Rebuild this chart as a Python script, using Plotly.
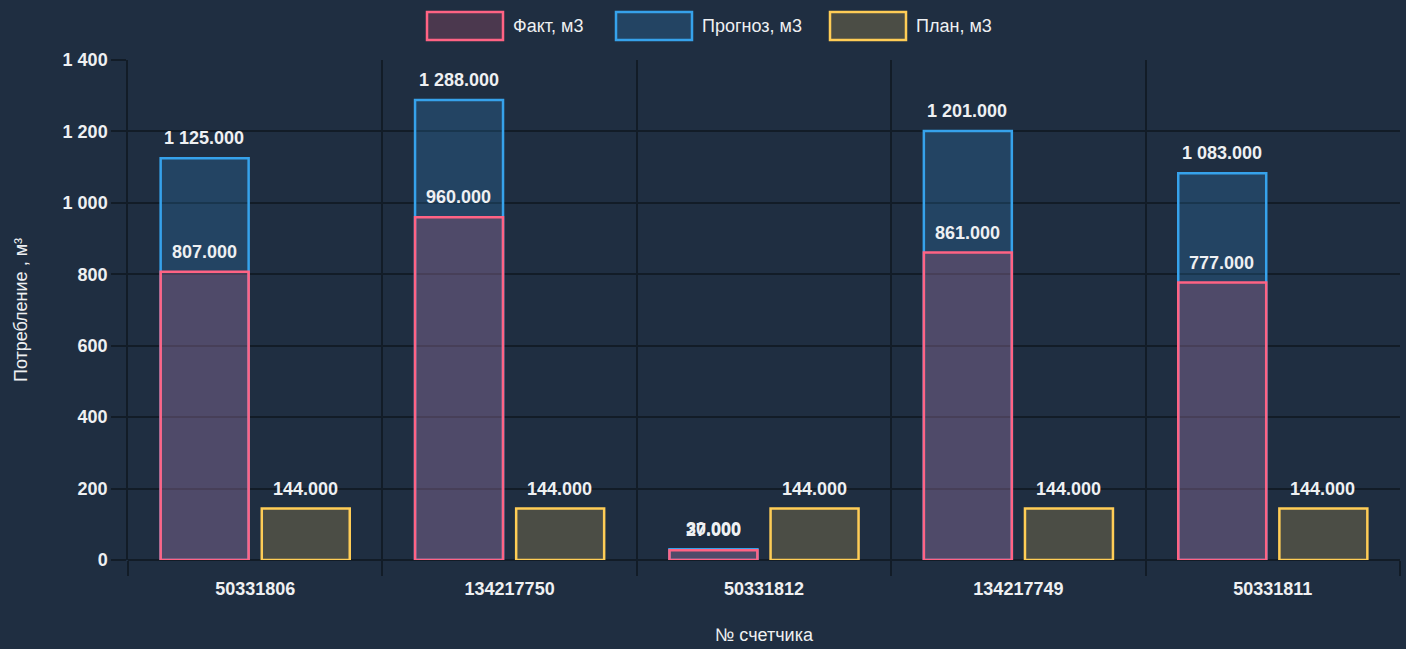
import plotly.graph_objects as go

categories = ["50331806", "134217750", "50331812", "134217749", "50331811"]
fact = [807, 960, 27, 861, 777]
forecast = [1125, 1288, 30, 1201, 1083]
plan = [144, 144, 144, 144, 144]

series_names = ["Факт, м3", "Прогноз, м3", "План, м3"]
y_title = "Потребление , м³"
x_title = "№ счетчика"

BG = "#1f2e41"
GRID = "#121c27"
TXT = "#eef0f2"
FONT = "Liberation Sans, Arial, sans-serif"

C_FACT = "#ff6384"
C_FORE = "#36a2eb"
C_PLAN = "#ffcd56"
F_FACT = "rgba(255,99,132,0.2)"
F_FORE = "rgba(54,162,235,0.2)"
F_PLAN = "rgba(255,205,86,0.2)"

fig = go.Figure()
fig.add_trace(go.Bar(x=categories, y=forecast, name=series_names[1], offsetgroup="a",
                     marker=dict(color=F_FORE, line=dict(color=C_FORE, width=2.5))))
fig.add_trace(go.Bar(x=categories, y=fact, name=series_names[0], offsetgroup="a",
                     marker=dict(color=F_FACT, line=dict(color=C_FACT, width=2.5))))
fig.add_trace(go.Bar(x=categories, y=plan, name=series_names[2], offsetgroup="b",
                     marker=dict(color=F_PLAN, line=dict(color=C_PLAN, width=2.5))))

# data labels (x given as category index)
ann = []
for series, shift in ((forecast, -51), (fact, -51), (plan, 50)):
    for i, v in enumerate(series):
        ann.append(dict(x=i, y=v, xref="x", yref="y",
                        text=f"{v:,.3f}".replace(",", " "), showarrow=False,
                        xshift=shift, yshift=20, yanchor="middle",
                        font=dict(family=FONT, size=18, color=TXT, weight="bold")))

# custom legend (pixel positions converted to paper coords)
L, R, T, B = 128, 1400, 60, 560
def px(x):
    return (x - L) / (R - L)
def py(y):
    return (B - y) / (B - T)

shapes = []
legend_items = [(427, series_names[0], F_FACT, C_FACT),
                (616, series_names[1], F_FORE, C_FORE),
                (830, series_names[2], F_PLAN, C_PLAN)]
for x0, name, fill, line in legend_items:
    shapes.append(dict(type="rect", xref="paper", yref="paper",
                       x0=px(x0), x1=px(x0 + 76), y0=py(40), y1=py(12),
                       fillcolor=fill, line=dict(color=line, width=2.5), layer="above"))
    ann.append(dict(xref="paper", yref="paper", x=px(x0 + 84), y=py(26), text=name,
                    showarrow=False, xanchor="left", yanchor="middle",
                    font=dict(family=FONT, size=18, color=TXT)))

fig.update_layout(
    width=1406, height=649,
    paper_bgcolor=BG, plot_bgcolor=BG,
    margin=dict(l=L, r=1406 - R, t=T, b=649 - B),
    barmode="group", bargap=0.205, bargroupgap=0.13,
    showlegend=False,
    separators=". ",
    font=dict(family=FONT, color=TXT),
    annotations=ann, shapes=shapes,
    xaxis=dict(type="category", range=[-0.5, len(categories) - 0.5], tickson="boundaries",
               showgrid=True, gridcolor=GRID, gridwidth=1.5,
               ticks="outside", ticklen=15, tickcolor=GRID, tickwidth=1.5,
               tickfont=dict(size=18, weight="bold", color=TXT), tickangle=0,
               ticklabelstandoff=16,
               showline=False, zeroline=False, automargin=False,
               title=dict(text=x_title, font=dict(size=18, color=TXT), standoff=30)),
    yaxis=dict(range=[0, 1400], dtick=200, tickformat=",d", showgrid=True, gridcolor=GRID, gridwidth=1.5,
               ticks="outside", ticklen=15, tickcolor=GRID, tickwidth=1.5,
               tickfont=dict(size=18, weight="bold", color=TXT),
               zeroline=True, zerolinecolor=GRID, zerolinewidth=1.5,
               showline=True, linecolor=GRID, linewidth=1.5, automargin=False,
               title=dict(text=y_title, font=dict(size=18, color=TXT), standoff=30)),
)

fig.write_html("out.html", config={"displayModeBar": False},
               post_script="document.body.style.margin='0';")
